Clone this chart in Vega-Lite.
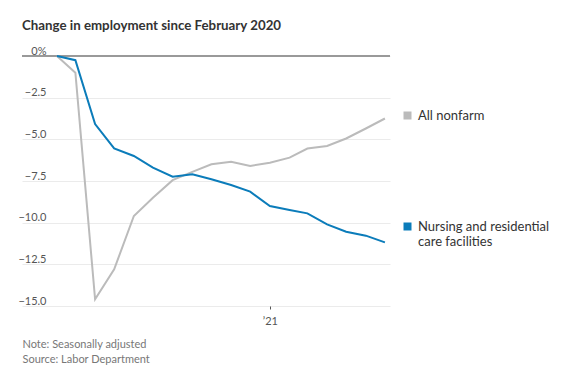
{
  "$schema": "https://vega.github.io/schema/vega-lite/v6.json",
  "width": 368,
  "height": 250,
  "autosize": {"type": "none"},
  "padding": {"left": 22, "top": 56, "right": 171, "bottom": 71},
  "background": "white",
  "title": {
    "text": "Change in employment since February 2020",
    "anchor": "start",
    "frame": "group",
    "font": "Lato",
    "fontSize": 13.3,
    "fontWeight": "bold",
    "color": "#333333",
    "offset": 13
  },
  "config": {
    "view": {"stroke": null},
    "font": "Lato"
  },
  "data": {
    "values": [
      {"date": "2020-02-01", "series": "All nonfarm", "value": 0},
      {"date": "2020-03-01", "series": "All nonfarm", "value": -1.0},
      {"date": "2020-04-01", "series": "All nonfarm", "value": -14.6},
      {"date": "2020-05-01", "series": "All nonfarm", "value": -12.8},
      {"date": "2020-06-01", "series": "All nonfarm", "value": -9.6},
      {"date": "2020-07-01", "series": "All nonfarm", "value": -8.5},
      {"date": "2020-08-01", "series": "All nonfarm", "value": -7.45},
      {"date": "2020-09-01", "series": "All nonfarm", "value": -6.95},
      {"date": "2020-10-01", "series": "All nonfarm", "value": -6.5},
      {"date": "2020-11-01", "series": "All nonfarm", "value": -6.35},
      {"date": "2020-12-01", "series": "All nonfarm", "value": -6.6},
      {"date": "2021-01-01", "series": "All nonfarm", "value": -6.4},
      {"date": "2021-02-01", "series": "All nonfarm", "value": -6.1},
      {"date": "2021-03-01", "series": "All nonfarm", "value": -5.55},
      {"date": "2021-04-01", "series": "All nonfarm", "value": -5.4},
      {"date": "2021-05-01", "series": "All nonfarm", "value": -4.95},
      {"date": "2021-06-01", "series": "All nonfarm", "value": -4.35},
      {"date": "2021-07-01", "series": "All nonfarm", "value": -3.75},
      {"date": "2020-02-01", "series": "Nursing and residential care facilities", "value": 0},
      {"date": "2020-03-01", "series": "Nursing and residential care facilities", "value": -0.25},
      {"date": "2020-04-01", "series": "Nursing and residential care facilities", "value": -4.08},
      {"date": "2020-05-01", "series": "Nursing and residential care facilities", "value": -5.54},
      {"date": "2020-06-01", "series": "Nursing and residential care facilities", "value": -6.0},
      {"date": "2020-07-01", "series": "Nursing and residential care facilities", "value": -6.7},
      {"date": "2020-08-01", "series": "Nursing and residential care facilities", "value": -7.24},
      {"date": "2020-09-01", "series": "Nursing and residential care facilities", "value": -7.1},
      {"date": "2020-10-01", "series": "Nursing and residential care facilities", "value": -7.4},
      {"date": "2020-11-01", "series": "Nursing and residential care facilities", "value": -7.74},
      {"date": "2020-12-01", "series": "Nursing and residential care facilities", "value": -8.14},
      {"date": "2021-01-01", "series": "Nursing and residential care facilities", "value": -9.0},
      {"date": "2021-02-01", "series": "Nursing and residential care facilities", "value": -9.24},
      {"date": "2021-03-01", "series": "Nursing and residential care facilities", "value": -9.44},
      {"date": "2021-04-01", "series": "Nursing and residential care facilities", "value": -10.1},
      {"date": "2021-05-01", "series": "Nursing and residential care facilities", "value": -10.54},
      {"date": "2021-06-01", "series": "Nursing and residential care facilities", "value": -10.78},
      {"date": "2021-07-01", "series": "Nursing and residential care facilities", "value": -11.18}
    ]
  },
  "layer": [
    {
      "mark": {"type": "rule", "color": "#999999", "strokeWidth": 2},
      "encoding": {"y": {"datum": 0, "type": "quantitative", "scale": {"domain": [-15, 0]}}}
    },
    {
      "mark": {"type": "line", "strokeWidth": 2},
      "encoding": {
        "x": {
          "field": "date",
          "type": "temporal",
          "scale": {
            "type": "utc",
            "domain": [
              {"year": 2019, "month": 12, "date": 8, "utc": true},
              {"year": 2021, "month": 7, "date": 9, "utc": true}
            ]
          },
          "axis": {
            "values": [{"year": 2021, "month": 1, "date": 1, "utc": true}],
            "labelExpr": "'\\u2019' + utcFormat(datum.value, '%y')",
            "grid": false,
            "domain": false,
            "ticks": true,
            "tickSize": 3,
            "tickColor": "#555555",
            "labelPadding": 6,
            "labelFont": "Lato",
            "labelFontSize": 11,
            "labelColor": "#555555",
            "title": ["Note: Seasonally adjusted", "Source: Labor Department"],
            "titleAnchor": "start",
            "titleAlign": "left",
            "titleBaseline": "top",
            "titleFont": "Lato",
            "titleFontSize": 11,
            "titleFontWeight": "normal",
            "titleColor": "#777777",
            "titleLineHeight": 15,
            "titlePadding": 12
          }
        },
        "y": {
          "field": "value",
          "type": "quantitative",
          "scale": {"domain": [-15, 0], "nice": false},
          "axis": {
            "values": [-15, -12.5, -10, -7.5, -5, -2.5, 0],
            "labelExpr": "datum.value == 0 ? '0%' : format(datum.value, '.1f')",
            "domain": false,
            "ticks": false,
            "tickSize": 0,
            "grid": true,
            "gridColor": "#ebebeb",
            "gridWidth": 1,
            "labelAlign": "right",
            "labelBaseline": "alphabetic",
            "labelOffset": -2,
            "labelPadding": -24,
            "labelFont": "Lato",
            "labelFontSize": 11,
            "labelColor": "#555555",
            "title": null
          }
        },
        "color": {
          "field": "series",
          "type": "nominal",
          "scale": {
            "domain": ["All nonfarm", "Nursing and residential care facilities"],
            "range": ["#bbbbbb", "#0b7cba"]
          },
          "legend": {
            "title": null,
            "orient": "none",
            "legendX": 379,
            "legendY": 53,
            "direction": "vertical",
            "symbolType": "square",
            "symbolSize": 64,
            "symbolOpacity": 1,
            "labelFont": "Lato",
            "labelFontSize": 13,
            "labelColor": "#333333",
            "labelLimit": 200,
            "labelOffset": 4,
            "labelExpr": "datum.label == 'All nonfarm' ? datum.label : ['Nursing and residential', 'care facilities']",
            "rowPadding": 97,
            "encode": {
              "symbols": {
                "update": {
                  "fill": {"scale": "color", "field": "value"},
                  "stroke": {"value": "transparent"},
                  "strokeWidth": {"value": 0},
                  "fillOpacity": {"value": 1}
                }
              }
            }
          }
        }
      }
    }
  ]
}
